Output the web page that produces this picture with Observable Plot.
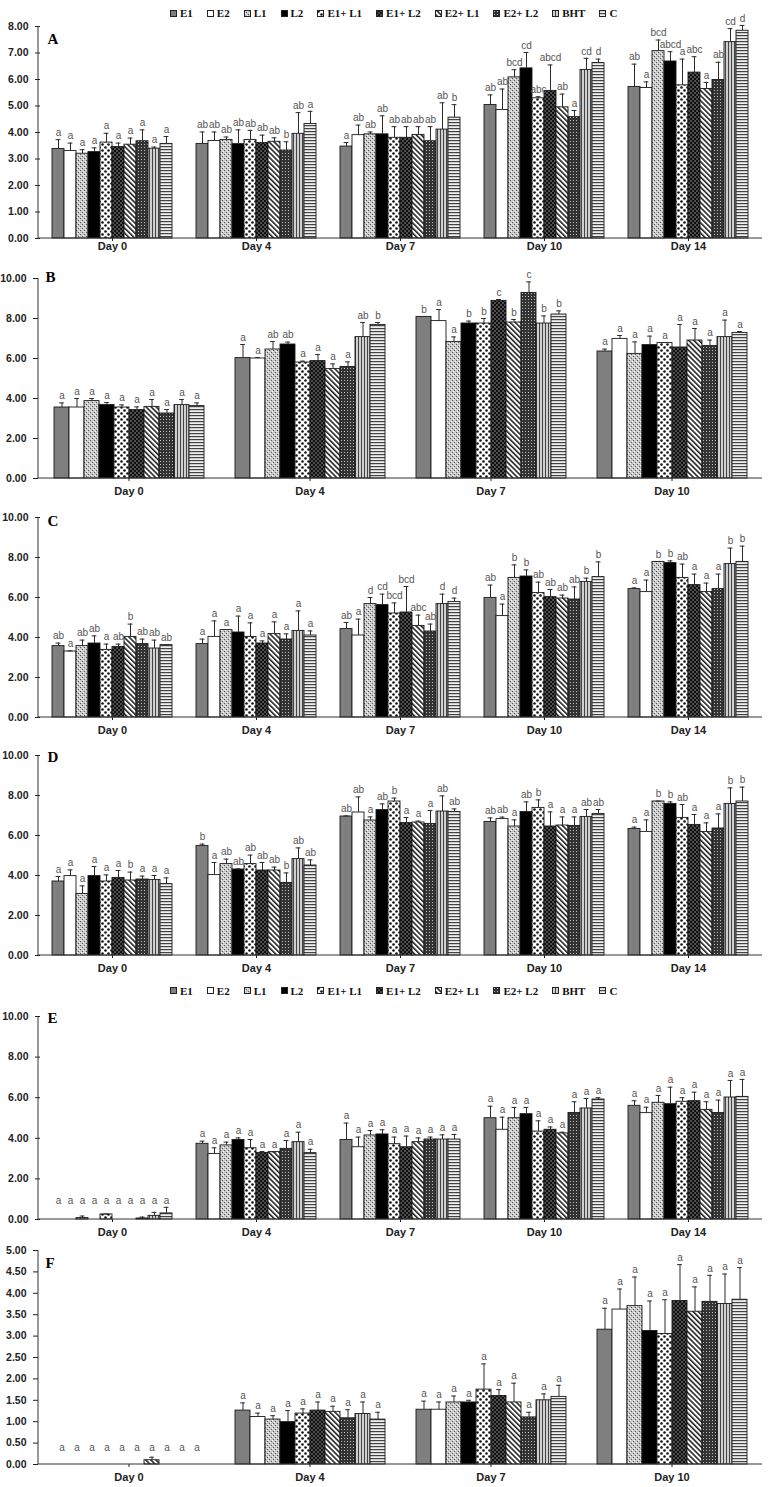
<!DOCTYPE html>
<html><head><meta charset="utf-8">
<script src="https://cdn.jsdelivr.net/npm/d3@7"></script>
<script src="https://cdn.jsdelivr.net/npm/@observablehq/plot@0.6"></script>
<style>
body{margin:0;background:#fff;}
#page{position:relative;width:768px;height:1487px;overflow:hidden;background:#fff;}
.legend{position:absolute;left:170px;display:flex;align-items:center;font-family:"Liberation Serif","DejaVu Serif",serif;font-weight:bold;font-size:11px;color:#111;line-height:14px;white-space:nowrap;}
.legend .item{display:flex;align-items:center;margin-right:14px;}
.legend svg{margin-right:3px;}
.panel{position:absolute;left:0;}
.panel svg g[aria-label="fx-axis tick label"], .panel svg g[aria-label="y-axis tick label"]{font-weight:bold;}
</style></head><body>
<svg width="0" height="0" style="position:absolute;left:0;top:0">
<defs>
<pattern id="pL1" width="4" height="4" patternUnits="userSpaceOnUse">
 <rect width="4" height="4" fill="#c8c8c8"/>
 <rect x="0" y="0" width="1" height="1" fill="#555"/>
 <rect x="2" y="2" width="1" height="1" fill="#555"/>
 <rect x="1" y="3" width="1" height="1" fill="#fff"/>
 <rect x="3" y="1" width="1" height="1" fill="#fff"/>
</pattern>
<pattern id="pE1L1" width="6" height="6" patternUnits="userSpaceOnUse">
 <rect width="6" height="6" fill="#fff"/>
 <circle cx="1.5" cy="1.5" r="1.3" fill="#111"/>
 <circle cx="4.5" cy="4.5" r="1.3" fill="#111"/>
</pattern>
<pattern id="pE1L2" width="4" height="4" patternUnits="userSpaceOnUse">
 <rect width="4" height="4" fill="#111"/>
 <rect x="0.5" y="0.5" width="1" height="1" fill="#fff"/>
 <rect x="2.5" y="2.5" width="1" height="1" fill="#fff"/>
</pattern>
<pattern id="pE2L1" width="3.6" height="3.6" patternUnits="userSpaceOnUse" patternTransform="rotate(-45)">
 <rect width="3.6" height="3.6" fill="#fff"/>
 <rect width="1.6" height="3.6" fill="#222"/>
</pattern>
<pattern id="pE2L2" width="3" height="3" patternUnits="userSpaceOnUse">
 <rect width="3" height="3" fill="#333"/>
 <rect x="1" y="1" width="1" height="1" fill="#bbb"/>
</pattern>
<pattern id="pBHT" width="3" height="3" patternUnits="userSpaceOnUse">
 <rect width="3" height="3" fill="#cfcfcf"/>
 <rect width="1" height="3" fill="#444"/>
</pattern>
<pattern id="pC" width="3" height="3" patternUnits="userSpaceOnUse">
 <rect width="3" height="3" fill="#eee"/>
 <rect width="3" height="1.2" fill="#444"/>
</pattern>
</defs></svg>
<div id="page"></div>
<script>
// ---------- data ----------
const series = ["E1","E2","L1","L2","E1+ L1","E1+ L2","E2+ L1","E2+ L2","BHT","C"];

const daysA = ["Day 0","Day 4","Day 7","Day 10","Day 14"];
const meansA = [
  [3.38,3.30,3.20,3.26,3.62,3.45,3.54,3.67,3.39,3.57],
  [3.57,3.68,3.72,3.56,3.72,3.60,3.65,3.32,3.95,4.32],
  [3.47,3.90,3.93,3.93,3.80,3.80,3.91,3.67,4.11,4.56],
  [5.04,4.85,6.08,6.42,5.29,5.57,4.95,4.58,6.36,6.62],
  [5.72,5.68,7.07,6.68,5.78,6.26,5.64,5.98,7.41,7.84]];
const errsA = [
  [0.35,0.30,0.15,0.16,0.35,0.15,0.25,0.43,0.06,0.28],
  [0.45,0.34,0.11,0.54,0.36,0.30,0.15,0.33,0.80,0.48],
  [0.15,0.38,0.09,0.70,0.42,0.42,0.31,0.55,1.01,0.49],
  [0.38,0.79,0.29,0.60,0.06,0.98,0.50,0.25,0.44,0.15],
  [0.86,0.23,0.42,0.37,0.99,0.60,0.25,0.67,0.51,0.20]];
const lettersA = [
  "a a a a a a a a a a",
  "ab ab ab ab ab ab ab b ab a",
  "a ab ab ab ab ab ab ab ab b",
  "ab ab bcd cd abc abcd ab a cd d",
  "ab a bcd abcd a abc a ab cd d"].map(s => s.split(" "));

const daysB = ["Day 0","Day 4","Day 7","Day 10"];
const meansB = [
  [3.55,3.55,3.87,3.68,3.55,3.42,3.58,3.25,3.67,3.62],
  [6.02,6.00,6.45,6.70,5.80,5.87,5.47,5.58,7.07,7.68],
  [8.08,7.87,6.83,7.75,7.75,8.88,7.80,9.28,7.75,8.20],
  [6.35,6.98,6.23,6.67,6.77,6.55,6.90,6.62,7.07,7.28]];
const errsB = [
  [0.23,0.45,0.13,0.12,0.13,0.16,0.37,0.20,0.28,0.16],
  [0.68,0.05,0.40,0.12,0.07,0.33,0.26,0.25,0.73,0.12],
  [0.02,0.58,0.25,0.12,0.25,0.07,0.15,0.55,0.38,0.18],
  [0.12,0.17,0.60,0.45,0.03,1.15,0.60,0.30,0.85,0.07]];
const lettersB = [
  "a a a a a a a a a a",
  "a a ab ab a a a a ab b",
  "b a a b b c b c b b",
  "a a a a a a a a a a"].map(s => s.split(" "));

const daysC = ["Day 0","Day 4","Day 7","Day 10","Day 14"];
const meansC = [
  [3.57,3.30,3.57,3.70,3.38,3.53,4.03,3.67,3.45,3.62],
  [3.67,4.03,4.37,4.25,4.03,3.70,4.17,3.90,4.33,4.10],
  [4.42,4.10,5.67,5.62,5.20,5.25,4.58,4.30,5.67,5.78],
  [5.98,5.07,6.98,7.05,6.22,6.02,5.95,5.90,6.78,7.02],
  [6.42,6.27,7.78,7.72,6.98,6.62,6.27,6.42,7.67,7.78]];
const errsC = [
  [0.15,0.03,0.30,0.38,0.29,0.14,0.64,0.25,0.42,0.02],
  [0.25,0.80,0.03,0.82,0.70,0.13,0.61,0.28,1.00,0.23],
  [0.33,0.82,0.33,0.55,0.53,1.30,0.54,0.37,0.50,0.19],
  [0.64,0.60,0.65,0.33,0.55,0.38,0.17,0.63,0.19,0.76],
  [0.06,0.60,0.02,0.11,0.69,0.55,0.45,0.75,0.80,0.79]];
const lettersC = [
  "ab a ab ab a ab b ab ab ab",
  "a a a a a a a a a a",
  "ab a d cd bcd bcd abc ab d d",
  "ab a b b ab ab ab ab b b",
  "a a b b ab a a a b b"].map(s => s.split(" "));

const daysD = ["Day 0","Day 4","Day 7","Day 10","Day 14"];
const meansD = [
  [3.70,3.97,3.08,3.97,3.70,3.88,3.75,3.80,3.78,3.57],
  [5.48,4.02,4.57,4.30,4.57,4.25,4.25,3.63,4.82,4.50],
  [6.95,7.15,6.75,7.27,7.70,6.62,6.65,6.58,7.20,7.18],
  [6.68,6.82,6.45,7.18,7.38,6.45,6.50,6.48,6.93,7.08],
  [6.33,6.18,7.70,7.58,6.88,6.53,6.18,6.35,7.58,7.70]];
const errsD = [
  [0.25,0.31,0.40,0.48,0.33,0.37,0.42,0.17,0.22,0.31],
  [0.09,0.63,0.25,0.03,0.45,0.40,0.17,0.50,0.56,0.28],
  [0.03,0.78,0.18,0.31,0.17,0.28,0.07,0.67,0.78,0.15],
  [0.20,0.10,0.33,0.50,0.40,0.73,0.43,0.45,0.37,0.22],
  [0.09,0.60,0.02,0.10,0.67,0.52,0.45,0.73,0.80,0.72]];
const lettersD = [
  "a a a a a a b a a a",
  "b a ab ab ab ab ab b ab ab",
  "ab ab a ab b a a a ab ab",
  "ab ab a ab b a a a ab ab",
  "a a b b ab a a a b b"].map(s => s.split(" "));

const daysE = ["Day 0","Day 4","Day 7","Day 10","Day 14"];
const meansE = [
  [0,0,0.07,0,0.25,0,0,0.05,0.18,0.30],
  [3.73,3.23,3.65,3.92,3.51,3.28,3.32,3.48,3.81,3.27],
  [3.92,3.56,4.14,4.19,3.71,3.56,3.81,3.94,3.94,3.94],
  [4.99,4.42,4.99,5.19,4.33,4.42,4.24,5.25,5.47,5.91],
  [5.60,5.24,5.75,5.68,5.80,5.83,5.40,5.25,6.01,6.04]];
const errsE = [
  [0,0,0.10,0,0.02,0,0,0.07,0.17,0.30],
  [0.13,0.30,0.16,0.10,0.43,0.07,0.01,0.41,0.49,0.19],
  [0.83,0.50,0.24,0.23,0.35,0.55,0.21,0.12,0.23,0.25],
  [0.59,0.62,0.53,0.33,0.53,0.14,0.06,0.55,0.49,0.09],
  [0.25,0.29,0.36,0.84,0.20,0.44,0.40,0.63,0.84,0.86]];
const lettersE = daysE.map(() => series.map(() => "a"));

const daysF = ["Day 0","Day 4","Day 7","Day 10"];
const meansF = [
  [0,0,0,0,0,0,0.10,0,0,0],
  [1.26,1.11,1.05,0.99,1.19,1.26,1.23,1.08,1.18,1.05],
  [1.28,1.28,1.45,1.45,1.75,1.60,1.45,1.10,1.50,1.58],
  [3.15,3.62,3.70,3.12,3.05,3.82,3.57,3.80,3.75,3.85]];
const errsF = [
  [0,0,0,0,0,0,0.07,0,0,0],
  [0.18,0.09,0.09,0.27,0.11,0.20,0.13,0.20,0.28,0.17],
  [0.20,0.18,0.15,0.05,0.60,0.15,0.45,0.12,0.15,0.27],
  [0.50,0.48,0.68,0.70,0.80,0.85,0.58,0.62,0.70,0.75]];
const lettersF = daysF.map(() => series.map(() => "a"));

const ticks8 = [0,1,2,3,4,5,6,7,8];
const ticks10 = [0,2,4,6,8,10];
const ticks5 = [0,0.5,1,1.5,2,2.5,3,3.5,4,4.5,5];

// ---------- styles ----------
const fills = ["#7f7f7f","#ffffff","url(#pL1)","#000000","url(#pE1L1)","url(#pE1L2)","url(#pE2L1)","url(#pE2L2)","url(#pBHT)","url(#pC)"];
const W = 768, ML = 38, MR = 6;
const page = document.getElementById("page");

function legend(top) {
  const div = document.createElement("div");
  div.className = "legend";
  div.style.top = top + "px";
  series.forEach((s, i) => {
    const it = document.createElement("span");
    it.className = "item";
    it.innerHTML = `<svg width="7" height="7"><rect x="0.5" y="0.5" width="6" height="6" fill="${fills[i]}" stroke="#222" stroke-width="1"/></svg><span>${s}</span>`;
    div.appendChild(it);
  });
  page.appendChild(div);
}

function panel(cfg) {
  const rows = [];
  cfg.days.forEach((day, d) => series.forEach((s, i) => {
    const v = cfg.means[d][i], e = cfg.errs[d][i];
    rows.push({day, series: s, value: v, err: e, top: v + e, letter: cfg.letters[d][i], fill: fills[i]});
  }));
  const withErr = rows.filter(r => r.err > 0);
  const step = (W - ML - MR) / cfg.days.length;
  const inset = step * 0.0625;
  const barW = (step - 2 * inset) / series.length;
  const capInset = Math.max(0, (barW - 5.5) / 2);
  const plot = Plot.plot({
    width: W, height: cfg.height,
    marginTop: cfg.mt, marginBottom: cfg.mb, marginLeft: ML, marginRight: MR,
    style: {fontFamily: "'Liberation Sans', Arial, sans-serif", fontSize: "11px", overflow: "visible", background: "transparent", color: "#222"},
    fx: {domain: cfg.days, padding: 0, label: null},
    x: {domain: series, padding: 0, axis: null, insetLeft: inset, insetRight: inset},
    y: {domain: [0, cfg.yMax], label: null},
    color: {type: "identity"},
    marks: [
      Plot.barY(rows, {fx: "day", x: "series", y: "value", fill: "fill", stroke: "#1a1a1a", strokeWidth: 0.9}),
      Plot.ruleX(withErr, {fx: "day", x: "series", y1: "value", y2: "top", stroke: "#2a2a2a", strokeWidth: 1}),
      Plot.tickY(withErr, {fx: "day", x: "series", y: "top", stroke: "#2a2a2a", strokeWidth: 1, insetLeft: capInset, insetRight: capInset}),
      Plot.text(rows, {fx: "day", x: "series", y: r => Math.max(r.top, cfg.floor), text: "letter", dy: -7, fill: "#555", fontSize: 10}),
      Plot.axisY({ticks: cfg.ticks, tickFormat: d3.format(".2f"), tickSize: 5, tickPadding: 7, fontSize: 10.5, label: null}),
      Plot.axisFx({anchor: "bottom", tickSize: 3, tickPadding: cfg.fxPad, fontSize: 11, label: null}),
      Plot.text([{day: cfg.days[0], tag: cfg.tag}], {fx: "day", text: "tag", frameAnchor: "top-left", textAnchor: "start", dx: 7, dy: cfg.tagDy, fontFamily: "'Liberation Serif', serif", fontWeight: "bold", fontSize: 15, fill: "#000"})
    ]
  });
  // axis lines from the library's own scales
  const y = plot.scale("y"), fx = plot.scale("fx");
  const y0 = y.apply(0), yTop = y.apply(cfg.yMax);
  const [xa, xb] = fx.range;
  const svg = d3.select(plot);
  svg.append("line").attr("x1", xa).attr("x2", xa).attr("y1", yTop).attr("y2", y0).attr("stroke", "#333").attr("stroke-width", 1);
  svg.append("line").attr("x1", xa).attr("x2", xb).attr("y1", y0).attr("y2", y0).attr("stroke", "#333").attr("stroke-width", 1);
  const div = document.createElement("div");
  div.className = "panel";
  div.style.top = cfg.top + "px";
  div.appendChild(plot);
  page.appendChild(div);
}

legend(6);
panel({tag: "A", top: 20, height: 242, mt: 6, mb: 24, yMax: 8, ticks: ticks8, days: daysA, means: meansA, errs: errsA, letters: lettersA, fxPad: 1, tagDy: 7, floor: 0});
panel({tag: "B", top: 262, height: 239, mt: 16, mb: 23, yMax: 10, ticks: ticks10, days: daysB, means: meansB, errs: errsB, letters: lettersB, fxPad: 5.5, tagDy: -7, floor: 0});
panel({tag: "C", top: 501, height: 238, mt: 16, mb: 22, yMax: 10, ticks: ticks10, days: daysC, means: meansC, errs: errsC, letters: lettersC, fxPad: 5.5, tagDy: -2, floor: 0});
panel({tag: "D", top: 739, height: 239, mt: 16, mb: 23, yMax: 10, ticks: ticks10, days: daysD, means: meansD, errs: errsD, letters: lettersD, fxPad: 5.5, tagDy: -4.5, floor: 0});
legend(983.5);
panel({tag: "E", top: 1000, height: 239, mt: 16, mb: 20, yMax: 10, ticks: ticks10, days: daysE, means: meansE, errs: errsE, letters: lettersE, fxPad: 5.5, tagDy: -4.3, floor: 0.6});
panel({tag: "F", top: 1239, height: 248, mt: 11, mb: 23, yMax: 5, ticks: ticks5, days: daysF, means: meansF, errs: errsF, letters: lettersF, fxPad: 5.5, tagDy: 6.7, floor: 0.23});
</script>
</body></html>
